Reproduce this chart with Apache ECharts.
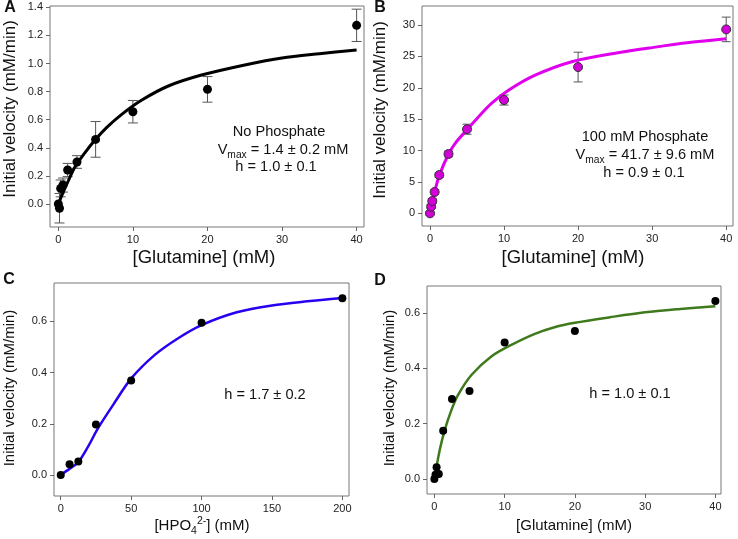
<!DOCTYPE html>
<html>
<head>
<meta charset="utf-8">
<script src="https://cdn.jsdelivr.net/npm/echarts@6/dist/echarts.min.js"></script>
<style>
html,body{margin:0;padding:0;background:#fff;}
#c{width:738px;height:539px;}
</style>
</head>
<body>
<div id="c"></div>
<script>
// ---------- data ----------
const concGln = [0, 0.156, 0.3125, 0.625, 1.25, 2.5, 5, 10, 20, 40];
const concP = [0, 6.25, 12.5, 25, 50, 100, 200];

const velA = [0.0, -0.03, 0.111, 0.135, 0.242, 0.299, 0.46, 0.657, 0.816, 1.272];
const errA = [0, 0.105, 0.06, 0.05, 0.047, 0.045, 0.127, 0.08, 0.091, 0.115];
const fitAx = [0, 0.5, 1, 2.24, 3.5, 4.92, 6.5, 8.5, 11.2, 14.75, 19.2, 25, 30, 35, 40];
const fitAy = [0, 0.065, 0.125, 0.265, 0.36, 0.455, 0.545, 0.638, 0.74, 0.84, 0.918, 0.99, 1.04, 1.07, 1.096];

const velB = [0, 1.06, 1.96, 3.4, 6.1, 9.45, 13.4, 18.05, 23.3, 29.3];
const errB = [0.25, 0.3, 0.35, 0.35, 0.35, 0.45, 0.8, 0.8, 2.37, 1.96];
const fitBx = [0, 0.3, 0.64, 1.25, 2.44, 3.5, 5.06, 6.5, 8.3, 10.6, 14.2, 19.15, 25, 30, 35, 40];
const fitBy = [0, 1.6, 3.5, 6.0, 9.29, 11.3, 13.38, 15.3, 17.5, 19.6, 22.0, 24.15, 25.5, 26.4, 27.2, 27.8];

const velC = [0, 0.042, 0.053, 0.197, 0.369, 0.594, 0.69];
const fitCx = [0, 6.4, 12.3, 19.4, 26.5, 37.2, 50.2, 66.8, 83.4, 100, 125, 150, 175, 200];
const fitCy = [0, 0.025, 0.049, 0.111, 0.183, 0.274, 0.378, 0.469, 0.534, 0.585, 0.635, 0.662, 0.678, 0.691];

const velD = [0, 0.015, 0.042, 0.018, 0.174, 0.289, 0.318, 0.494, 0.535, 0.644];
const fitDx = [0, 0.75, 1.47, 2.42, 3.37, 5.27, 8.1, 10.96, 14.3, 17.1, 20, 25, 30, 35, 40];
const fitDy = [0, 0.104, 0.177, 0.249, 0.304, 0.376, 0.443, 0.485, 0.525, 0.549, 0.565, 0.585, 0.603, 0.615, 0.625];

const ticksGlnX = [0, 10, 20, 30, 40];
const ticksAY = [0, 0.2, 0.4, 0.6, 0.8, 1.0, 1.2, 1.4];
const ticksBY = [0, 5, 10, 15, 20, 25, 30];
const ticksCX = [0, 50, 100, 150, 200];
const ticksCDY = [0, 0.2, 0.4, 0.6];

// ---------- helpers ----------
const FONT = '"Liberation Sans", Arial, sans-serif';
const zip = (a, b) => a.map((v, i) => [v, b[i]]);
const errData = (x, y, e) => x.map((v, i) => [v, y[i] - e[i], y[i] + e[i]]).filter((d, i) => e[i] > 0);

function xAxis(idx, min, max, ticks) {
  return {
    type: 'value', gridIndex: idx, min: min, max: max,
    axisLine: {show: false, onZero: false},
    splitLine: {show: false},
    axisTick: {show: true, length: 4, inside: false, customValues: ticks, lineStyle: {color: '#666'}},
    axisLabel: {customValues: ticks, margin: 7, fontSize: 11, color: '#222', fontFamily: FONT},
  };
}
function yAxis(idx, min, max, ticks, dec) {
  return {
    type: 'value', gridIndex: idx, min: min, max: max,
    axisLine: {show: false, onZero: false},
    splitLine: {show: false},
    axisTick: {show: true, length: 4, inside: false, customValues: ticks, lineStyle: {color: '#666'}},
    axisLabel: {customValues: ticks, margin: 7, fontSize: 11, color: '#222', fontFamily: FONT,
      formatter: v => Number(v).toFixed(dec)},
  };
}
function errSeries(idx, data, cap) {
  return {
    type: 'custom', xAxisIndex: idx, yAxisIndex: idx, z: 2, silent: true,
    data: data,
    renderItem: function (params, api) {
      const x = api.value(0), lo = api.value(1), hi = api.value(2);
      const t = api.coord([x, hi]), b = api.coord([x, lo]);
      const st = {stroke: '#555', lineWidth: 1};
      return {type: 'group', children: [
        {type: 'line', shape: {x1: t[0], y1: t[1], x2: b[0], y2: b[1]}, style: st},
        {type: 'line', shape: {x1: t[0] - cap, y1: t[1], x2: t[0] + cap, y2: t[1]}, style: st},
        {type: 'line', shape: {x1: b[0] - cap, y1: b[1], x2: b[0] + cap, y2: b[1]}, style: st},
      ]};
    }
  };
}
function fitSeries(idx, data, color, w) {
  return {type: 'line', xAxisIndex: idx, yAxisIndex: idx, data: data, smooth: 0.3,
    showSymbol: false, symbol: 'none', z: 3, lineStyle: {color: color, width: w}, silent: true};
}
function ptSeries(idx, data, fill, border, size) {
  return {type: 'scatter', xAxisIndex: idx, yAxisIndex: idx, data: data, symbol: 'circle',
    symbolSize: size, z: 4, itemStyle: {color: fill, borderColor: border, borderWidth: border ? 1 : 0, opacity: 1}, silent: true};
}
function txt(x, y, text, size, opts) {
  return Object.assign({type: 'text', x: x, y: y, style: Object.assign({text: text, fill: '#111',
    font: (opts && opts.bold ? 'bold ' : '') + size + 'px ' + FONT,
    align: 'center', verticalAlign: 'middle'}, opts && opts.style || {})}, opts && opts.el || {});
}
function richTxt(x, y, text, size, rot) {
  return {type: 'text', x: x, y: y, rotation: rot || 0, style: {
    text: text, fill: '#111', align: 'center', verticalAlign: 'middle',
    fontSize: size, fontFamily: FONT,
    rich: {
      n: {fontSize: size, fontFamily: FONT, fill: '#111', lineHeight: size * 1.4},
      sub: {fontSize: size * 0.7, fontFamily: FONT, fill: '#111', lineHeight: size * 1.4, verticalAlign: 'bottom', padding: [size * 0.55, 0, 0, 0]},
      sup: {fontSize: size * 0.7, fontFamily: FONT, fill: '#111', lineHeight: size * 1.4, verticalAlign: 'top', padding: [0, 0, size * 0.45, 0]}
    }
  }};
}

const frame = {show: true, borderColor: '#777', borderWidth: 1, backgroundColor: 'transparent'};

const option = {
  animation: false,
  backgroundColor: '#fff',
  grid: [
    Object.assign({left: 50, top: 6, width: 314, height: 221}, frame),
    Object.assign({left: 422, top: 6, width: 311, height: 220}, frame),
    Object.assign({left: 54, top: 283, width: 295, height: 213}, frame),
    Object.assign({left: 427, top: 286, width: 294, height: 208}, frame),
  ],
  xAxis: [
    xAxis(0, -1.117, 40.99, ticksGlnX),
    xAxis(1, -1.08, 40.92, ticksGlnX),
    xAxis(2, -4.79, 204.7, ticksCX),
    xAxis(3, -1.053, 40.8, ticksGlnX),
  ],
  yAxis: [
    yAxis(0, -0.1637, 1.4095, ticksAY, 1),
    yAxis(1, -2.02, 33.03, ticksBY, 0),
    yAxis(2, -0.0818, 0.7494, ticksCDY, 1),
    yAxis(3, -0.0544, 0.698, ticksCDY, 1),
  ],
  series: [
    errSeries(0, errData(concGln, velA, errA), 5),
    fitSeries(0, zip(fitAx, fitAy), '#000', 3),
    ptSeries(0, zip(concGln, velA), '#000', null, 9),

    errSeries(1, errData(concGln, velB, errB), 4.5),
    fitSeries(1, zip(fitBx, fitBy), '#e000ee', 3),
    ptSeries(1, zip(concGln, velB), '#d400d8', '#333', 9),

    fitSeries(2, zip(fitCx, fitCy), '#2a00f0', 2.5),
    ptSeries(2, zip(concP, velC), '#000', null, 8),

    fitSeries(3, zip(fitDx, fitDy), '#3f7a1c', 2.5),
    ptSeries(3, zip(concGln, velD), '#000', null, 8),
  ],
  graphic: [
    txt(10, 8, 'A', 16, {bold: true}),
    txt(380, 8, 'B', 16, {bold: true}),
    txt(9, 280, 'C', 16, {bold: true}),
    txt(380, 281, 'D', 16, {bold: true}),

    txt(10, 109, 'Initial velocity (mM/min)', 17, {el: {rotation: Math.PI / 2}}),
    txt(380, 110, 'Initial velocity (mM/min)', 17, {el: {rotation: Math.PI / 2}}),
    txt(10, 388, 'Initial velocity (mM/min)', 15, {el: {rotation: Math.PI / 2}}),
    txt(390, 388, 'Initial velocity (mM/min)', 15, {el: {rotation: Math.PI / 2}}),

    txt(204, 258, '[Glutamine] (mM)', 18.5),
    txt(573, 258, '[Glutamine] (mM)', 18.5),
    richTxt(202, 526, '{n|[HPO}{sub|4}{sup|2-}{n|] (mM)}', 15),
    txt(574, 526, '[Glutamine] (mM)', 15),

    txt(279, 132, 'No Phosphate', 14.6),
    richTxt(283, 150, '{n|V}{sub|max}{n| = 1.4 ± 0.2 mM}', 14.6),
    txt(276, 167, 'h = 1.0 ± 0.1', 14.6),

    txt(645, 137, '100 mM Phosphate', 14.6),
    richTxt(645, 155, '{n|V}{sub|max}{n| = 41.7 ± 9.6 mM}', 14.6),
    txt(644, 173, 'h = 0.9 ± 0.1', 14.6),

    txt(265, 395, 'h = 1.7 ± 0.2', 14.6),
    txt(630, 394, 'h = 1.0 ± 0.1', 14.6),
  ]
};

const chart = echarts.init(document.getElementById('c'), null, {renderer: 'canvas'});
chart.setOption(option);
</script>
</body>
</html>
